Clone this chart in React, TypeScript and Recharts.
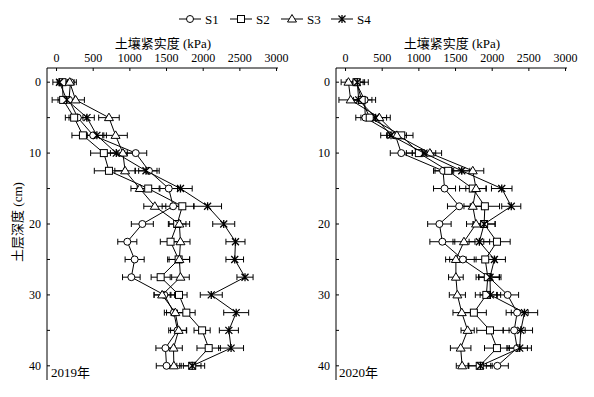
import { ScatterChart, Scatter, XAxis, YAxis, ErrorBar } from "recharts"

const FONT = "Liberation Serif, Times New Roman, Noto Sans CJK SC, serif"

const depths = [0, 2.5, 5, 7.5, 10, 12.5, 15, 17.5, 20, 22.5, 25, 27.5, 30, 32.5, 35, 37.5, 40]
const xTicks = [0, 500, 1000, 1500, 2000, 2500, 3000]
const yTicks = [0, 5, 10, 15, 20, 25, 30, 35, 40]
const seriesNames = ["S1", "S2", "S3", "S4"]

// 2019
const s1_2019 = [190, 170, 290, 500, 1080, 1260, 1530, 1590, 1170, 965, 1065, 1020, 1470, 1600, 1650, 1485, 1500]
const s2_2019 = [80, 90, 240, 360, 645, 715, 1250, 1715, 1645, 1555, 1665, 1420, 1670, 1770, 1985, 2075, 1850]
const s3_2019 = [180, 260, 715, 805, 905, 935, 1135, 1340, 1675, 1690, 1675, 1690, 1440, 1620, 1665, 1595, 1600]
const s4_2019 = [40, 140, 415, 550, 815, 1220, 1690, 2060, 2280, 2440, 2430, 2570, 2110, 2450, 2350, 2380, 1850]
const e1_2019 = [80, 100, 120, 130, 150, 140, 120, 150, 150, 130, 130, 120, 140, 130, 120, 130, 140]
const e2_2019 = [70, 150, 120, 150, 180, 200, 150, 160, 120, 140, 150, 130, 110, 120, 110, 160, 120]
const e3_2019 = [60, 120, 140, 160, 170, 140, 120, 150, 140, 130, 140, 120, 110, 120, 110, 120, 100]
const e4_2019 = [90, 120, 100, 130, 150, 150, 160, 190, 150, 130, 120, 110, 150, 170, 130, 170, 170]

// 2020
const s1_2020 = [140, 260, 270, 680, 760, 1330, 1350, 1550, 1280, 1320, 1600, 1955, 2210, 2340, 2300, 2340, 2070]
const s2_2020 = [150, 220, 330, 760, 1000, 1400, 1735, 1900, 1890, 2065, 1905, 1940, 1920, 1750, 1970, 2065, 1830]
const s3_2020 = [40, 70, 460, 700, 1150, 1735, 1780, 1735, 1780, 1615, 1505, 1505, 1525, 1585, 1665, 1570, 1590]
const s4_2020 = [160, 180, 410, 620, 1070, 1585, 2130, 2260, 1890, 1825, 2030, 1970, 1975, 2440, 2390, 2375, 1840]
const e1_2020 = [100, 150, 130, 120, 150, 130, 150, 160, 160, 170, 180, 140, 150, 150, 150, 140, 150]
const e2_2020 = [110, 140, 120, 160, 170, 180, 180, 200, 150, 180, 150, 160, 150, 170, 180, 170, 150]
const e3_2020 = [100, 160, 150, 130, 160, 150, 140, 120, 130, 150, 140, 100, 110, 120, 90, 140, 80]
const e4_2020 = [150, 120, 150, 140, 160, 110, 140, 130, 150, 140, 150, 150, 140, 180, 160, 160, 160]

type Kind = "circle" | "square" | "triangle" | "star"
const kinds: Kind[] = ["circle", "square", "triangle", "star"]

function drawMarker(kind: Kind, cx: number, cy: number) {
  if (kind === "circle") return <circle cx={cx} cy={cy} r={3.5} fill="#fff" stroke="#000" strokeWidth={1} />
  if (kind === "square")
    return <rect x={cx - 3.5} y={cy - 3.5} width={7} height={7} fill="#fff" stroke="#000" strokeWidth={1} />
  if (kind === "triangle")
    return (
      <polygon
        points={`${cx},${cy - 4.5} ${cx - 4.5},${cy + 3} ${cx + 4.5},${cy + 3}`}
        fill="#fff"
        stroke="#000"
        strokeWidth={1}
      />
    )
  return (
    <path
      d={`M${cx - 3.5},${cy - 3.5}L${cx + 3.5},${cy + 3.5}M${cx - 3.5},${cy + 3.5}L${cx + 3.5},${cy - 3.5}M${cx},${cy - 4}L${cx},${cy + 4}`}
      stroke="#000"
      strokeWidth={1.3}
      fill="none"
    />
  )
}

const toPoints = (vals: number[], errs: number[]) =>
  depths.map((d, i) => ({ x: vals[i], y: d, err: errs[i] }))

const data2019 = [
  toPoints(s1_2019, e1_2019),
  toPoints(s2_2019, e2_2019),
  toPoints(s3_2019, e3_2019),
  toPoints(s4_2019, e4_2019),
]
const data2020 = [
  toPoints(s1_2020, e1_2020),
  toPoints(s2_2020, e2_2020),
  toPoints(s3_2020, e3_2020),
  toPoints(s4_2020, e4_2020),
]

const tickStyle = { fill: "#000", fontSize: 12, fontFamily: FONT, style: { fontFamily: FONT } }

function Panel({
  data,
  yAxisWidth,
  rightMargin,
}: {
  data: { x: number; y: number; err: number }[][]
  yAxisWidth: number
  rightMargin: number
}) {
  return (
    <ScatterChart
      width={297}
      height={397}
      margin={{ top: 48, right: rightMargin, bottom: 17, left: 0 }}
      style={{ fontFamily: FONT }}
    >
      <XAxis
        type="number"
        dataKey="x"
        orientation="top"
        domain={[-130, 3020]}
        ticks={xTicks}
        interval={0}
        height={20}
        tickSize={-3}
        tickMargin={9}
        tick={tickStyle}
        axisLine={{ stroke: "#000" }}
        tickLine={{ stroke: "#000" }}
      />
      <YAxis
        type="number"
        dataKey="y"
        reversed
        domain={[-2, 42]}
        ticks={yTicks}
        interval={0}
        width={yAxisWidth}
        tickSize={-3}
        tickMargin={9}
        tickFormatter={(v: number) => (v % 10 === 0 ? String(v) : "")}
        tick={tickStyle}
        axisLine={{ stroke: "#000" }}
        tickLine={{ stroke: "#000" }}
      />
      {data.map((pts, i) => (
        <Scatter
          key={seriesNames[i]}
          name={seriesNames[i]}
          data={pts}
          line={{ stroke: "#000", strokeWidth: 1 }}
          lineJointType="linear"
          isAnimationActive={false}
          shape={(p: any) => drawMarker(kinds[i], p.cx, p.cy)}
        >
          <ErrorBar dataKey="err" direction="x" width={3} stroke="#000" strokeWidth={1} />
        </Scatter>
      ))}
    </ScatterChart>
  )
}

const legendStarts = [179, 230, 281, 331]

export default function App() {
  return (
    <div
      style={{
        position: "absolute",
        left: 0,
        top: 0,
        width: 594,
        height: 397,
        background: "#fff",
        fontFamily: FONT,
      }}
    >
      <div style={{ position: "absolute", left: 0, top: 0 }}>
        <Panel data={data2019} yAxisWidth={47} rightMargin={19} />
      </div>
      <div style={{ position: "absolute", left: 297, top: 0 }}>
        <Panel data={data2020} yAxisWidth={39} rightMargin={27} />
      </div>
      <svg
        width={594}
        height={397}
        style={{ position: "absolute", left: 0, top: 0, pointerEvents: "none", fontFamily: FONT }}
      >
        {seriesNames.map((name, i) => {
          const x0 = legendStarts[i]
          return (
            <g key={name}>
              <line x1={x0} y1={19} x2={x0 + 22} y2={19} stroke="#000" strokeWidth={1} />
              {drawMarker(kinds[i], x0 + 11, 19)}
              <text x={x0 + 26} y={23.5} fontSize={13} fill="#000">
                {name}
              </text>
            </g>
          )
        })}
        <text x={163} y={48} fontSize={13} textAnchor="middle" fill="#000">
          土壤紧实度 (kPa)
        </text>
        <text x={452} y={48} fontSize={13} textAnchor="middle" fill="#000">
          土壤紧实度 (kPa)
        </text>
        <text
          x={0}
          y={0}
          fontSize={13}
          textAnchor="middle"
          fill="#000"
          transform="translate(22,222) rotate(-90)"
        >
          土层深度 (cm)
        </text>
        <text x={51} y={377} fontSize={13} fill="#000">
          2019年
        </text>
        <text x={339} y={377} fontSize={13} fill="#000">
          2020年
        </text>
      </svg>
    </div>
  )
}
